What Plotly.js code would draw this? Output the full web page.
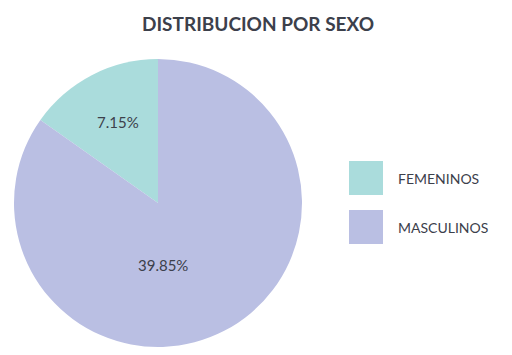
<!DOCTYPE html>
<html><head><meta charset="utf-8">
<script src="https://cdn.plot.ly/plotly-3.0.1.min.js"></script>
<style>html,body{margin:0;padding:0;background:#fff}#c{width:512px;height:355px}</style>
</head><body><div id="c"></div>
<script>
const categories = ["FEMENINOS", "MASCULINOS"];
const values = [7.15, 39.85];
const colors = ["#aadcdc", "#babfe3"];
const titleText = "DISTRIBUCION POR SEXO";

const W = 512, H = 355;
const total = values.reduce((a, b) => a + b, 0);
const trace = {
  type: "pie",
  labels: categories,
  values: values,
  marker: {colors: colors, line: {width: 0}},
  sort: false,
  direction: "clockwise",
  rotation: -360 * values[0] / total,
  textinfo: "none",
  hoverinfo: "none",
  showlegend: false,
  domain: {x: [14/W, 302/W], y: [1-347/H, 1-59/H]}
};

const shapes = [], annotations = [];
const legY = [178, 227];
const labelPos = [[118, 122], [163, 265]];
categories.forEach((c, i) => {
  shapes.push({type: "rect", xref: "paper", yref: "paper",
    x0: 349/W, x1: 383/W, y0: 1-(legY[i]+17)/H, y1: 1-(legY[i]-17)/H,
    fillcolor: colors[i], line: {width: 0}});
  annotations.push({xref: "paper", yref: "paper", x: 396/W, y: 1-legY[i]/H,
    xanchor: "left", yanchor: "middle", showarrow: false, text: c,
    font: {family: "Lato, sans-serif", size: 14, color: "#3c404b"}});
  annotations.push({xref: "paper", yref: "paper", x: labelPos[i][0]/W, y: 1-labelPos[i][1]/H,
    xanchor: "center", yanchor: "middle", showarrow: false, text: values[i] + "%",
    font: {family: "Lato, sans-serif", size: 15, color: "#3c404b"}});
});

const layout = {
  width: W, height: H,
  margin: {l: 0, r: 0, t: 0, b: 0},
  paper_bgcolor: "#fff",
  title: {text: "<b>" + titleText + "</b>", x: 0.504, xanchor: "center", y: 1-24/H, yanchor: "middle",
    font: {family: "Lato, sans-serif", size: 19, color: "#3c404b"}},
  shapes: shapes,
  annotations: annotations
};
Plotly.newPlot("c", [trace], layout, {displayModeBar: false, staticPlot: true});
</script></body></html>
